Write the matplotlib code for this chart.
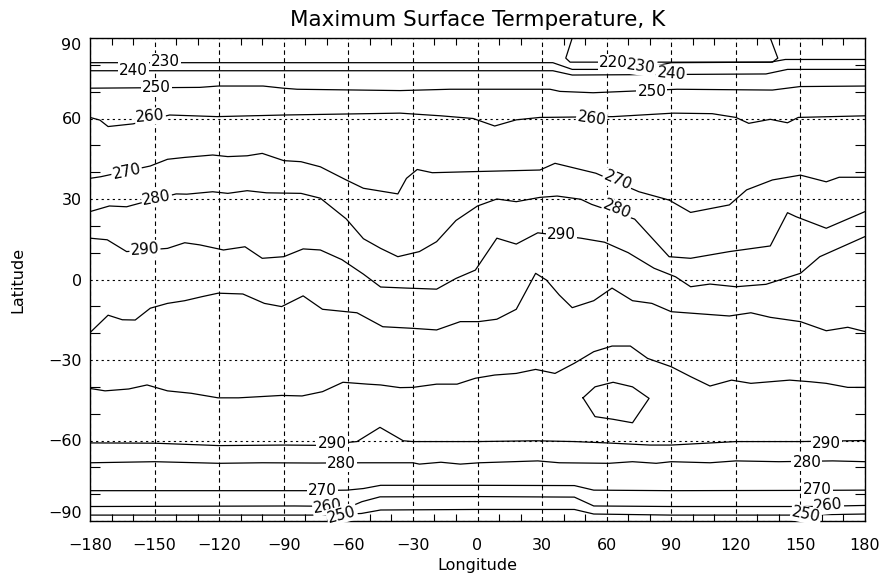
import matplotlib
matplotlib.use("Agg")
import matplotlib.pyplot as plt

# ---- data: contour polylines (lon, lat) ----
c220 = [(44, 90), (41, 82.5), (43, 81.0), (137, 81.0), (139.5, 82.5), (136, 90)]
c230 = [(-180, 80.8), (35, 80.8), (44, 78.3), (75, 78.3), (90, 80.8), (136, 81.0),
        (143, 82.0), (180, 82.0)]
c240 = [(-180, 77.8), (35, 77.8), (44, 76.2), (134, 76.6), (144, 78.3), (180, 78.3)]
c250 = [(-180, 71.3), (-129, 71.6), (-120.5, 72.1), (-99.6, 72.1), (-90.3, 71.3),
        (-83.8, 70.9), (-36, 70.4), (-12.8, 70.9), (33.7, 70.9), (38.3, 70.1),
        (53.7, 69.6), (92.7, 70.9), (137, 70.6), (149.8, 71.9), (180, 72.1)]
c260 = [(-180, 60.4), (-175.4, 59.4), (-171.6, 57.0), (-160, 58.0), (-143, 61.3),
        (-121, 60.7), (-90, 61.3), (-36, 62.0), (-17, 61.0), (-2, 60.0), (8, 57.2),
        (18, 59.5), (29, 60.4), (63, 60.7), (91, 62.0), (109, 61.8), (120, 60.4),
        (126, 58.2), (136, 59.7), (144, 58.4), (149, 60.4), (180, 61.0)]
c270 = [(-180, 37.7), (-175, 38.3), (-152, 42.3), (-144, 44.8), (-136, 45.5),
        (-123, 46.4), (-116, 45.8), (-107, 46.1), (-100, 47.0), (-90, 44.3),
        (-82, 43.9), (-73, 42.0), (-61, 37.1), (-53, 34.0), (-37, 31.9), (-33, 37.7),
        (-28, 41.0), (-21, 39.8), (-2, 40.2), (29, 40.8), (36, 43.3), (55, 39.6),
        (75, 32.7), (89, 29.6), (99, 25.0), (117, 27.8), (125, 33.4), (137, 37.1),
        (150, 38.9), (162, 36.4), (168, 38.1), (180, 38.1)]
c280 = [(-180, 25.3), (-171, 27.4), (-163, 27.1), (-157, 28.4), (-140, 31.9),
        (-135, 31.8), (-123, 32.7), (-116, 32.1), (-107, 33.1), (-98, 32.3),
        (-82, 32.1), (-73, 30.3), (-61, 22.6), (-53, 15.2), (-45, 11.6), (-37, 8.5),
        (-27, 10.4), (-19, 14.1), (-10, 22.0), (0, 27.4), (9, 30.0), (18, 29.0),
        (29, 30.6), (37, 31.1), (48, 29.9), (53, 28.0), (73, 22.5), (89, 8.5),
        (99, 7.9), (117, 10.4), (136, 12.5), (144, 24.9), (148, 23.4), (162, 19.1),
        (180, 25.3)]
c290_north = [(-180, 15.4), (-172, 14.8), (-163, 10.4), (-144, 11.6), (-136, 13.7),
              (-129, 12.9), (-118, 11.0), (-108, 12.2), (-100, 7.9), (-90, 8.5),
              (-81, 11.4), (-73, 11.0), (-63, 7.4), (-53, 2.0), (-45, -2.8),
              (-33, -3.2), (-19, -3.6), (-10, 0.4), (-1, 3.5), (9, 15.4), (18, 13.2),
              (28, 17.4), (48, 15.4), (59, 13.9), (70, 10.0), (82, 4.2), (92, 1.0),
              (99, -2.7), (108, -1.7), (120, -2.7), (134, -1.8), (150, 2.3),
              (159, 8.5), (180, 16.0)]
c300_north = [(-180, -19.8), (-171.6, -13.3), (-165, -15.0), (-159, -15.1),
              (-152, -10.7), (-144, -8.9), (-136, -7.9), (-128, -6.4), (-120.5, -5.1),
              (-109, -5.4), (-99, -8.9), (-91, -10.1), (-81, -6.1), (-72, -11.1),
              (-56, -12.4), (-44, -17.6), (-30, -18.2), (-19, -18.8), (-8, -15.7),
              (0.5, -15.7), (9, -14.8), (18, -11.1), (27, 2.3), (32, -0.2),
              (38, -5.8), (44, -10.5), (54, -7.9), (62.5, -3.2), (72, -7.9),
              (81, -8.9), (90, -12.0), (117, -13.6), (127, -12.4), (136, -14.1),
              (150, -15.7), (162, -19.1), (172, -17.8), (180, -19.4)]
c300_south = [(-180, -40.6), (-173, -41.5), (-162, -40.8), (-153.5, -39.3),
              (-144, -41.5), (-133, -42.4), (-120.5, -44.1), (-111, -44.1),
              (-102, -43.7), (-91, -43.2), (-81.5, -43.4), (-72, -41.8),
              (-62.5, -38.3), (-51, -39.0), (-45, -39.3), (-36, -40.3), (-30, -40.2),
              (-19, -39.0), (-9.5, -39.0), (-1, -36.8), (8, -35.6), (18, -35.0),
              (27, -33.5), (36, -35.0), (45, -31.2), (54, -26.9), (62.5, -24.8),
              (71, -24.8), (79, -29.4), (90, -32.5), (99, -36.2), (108, -39.7),
              (118, -37.5), (127, -38.7), (136, -38.1), (145, -37.5), (154.5, -38.1),
              (162, -38.7), (172, -40.2), (180, -40.2)]
c_loop = [(49, -44.1), (54.6, -40.0), (63, -38.3), (72, -40.0), (79.7, -44.3),
          (72, -53.4), (63, -52.1), (54.6, -51.1), (49, -44.1)]
c290_south = [(-180, -60.9), (-150, -61.0), (-120, -61.9), (-90, -61.7), (-75, -61.8),
              (-56, -60.4), (-45.3, -55.1), (-34.5, -60.1), (-30, -60.4), (0, -60.4),
              (27, -60.1), (45, -60.4), (60, -60.9), (80, -61.7), (90, -61.7),
              (120, -60.4), (150, -60.4), (180, -60.0)]
c280_south = [(-180, -68.3), (-150, -67.9), (-120, -68.5), (-100, -68.3),
              (-75, -68.4), (-54, -68.3), (-30, -68.3), (-27, -68.8), (-17, -68.1),
              (-8, -68.8), (1, -68.3), (28, -67.6), (38, -68.3), (61, -68.5),
              (72, -67.9), (83, -68.5), (90, -67.9), (108, -68.3), (120, -67.6),
              (140, -67.9), (165, -67.6), (180, -67.9)]
c270_south = [(-180, -78.7), (-80, -78.7), (-60.6, -78.5), (-53, -77.9), (-45, -76.7),
              (0, -76.7), (45, -76.8), (54, -78.5), (90, -78.7), (148, -78.6),
              (180, -78.5)]
c260_south = [(-180, -84.6), (-85, -84.4), (-59, -84.6), (-53.7, -82.8),
              (-45.3, -81.0), (0, -80.9), (45, -81.1), (54, -84.4), (90, -84.6),
              (155, -84.6), (180, -84.2)]
c250_south = [(-180, -87.8), (-72, -87.8), (-54, -87.2), (-45, -85.9), (0, -85.7),
              (45, -85.7), (54, -87.4), (90, -87.8), (148, -87.8), (180, -87.4)]

contours = [c220, c230, c240, c250, c260, c270, c280, c290_north, c300_north,
            c300_south, c_loop, c290_south, c280_south, c270_south, c260_south,
            c250_south]

# contour labels: text, lon, lat, rotation
label_text = ["230", "240", "250", "260", "270", "280", "290",
              "220", "230", "240", "250", "260", "270", "280", "290",
              "290", "280", "270", "260", "250",
              "290", "280", "270", "260", "250"]
label_lon = [-145, -160, -149, -152, -163, -149, -154.5,
             63, 76, 90, 81, 53, 65, 65, 39,
             -67.6, -63.4, -72.2, -69.5, -63,
             162, 153, 157.7, 163, 152.6]
label_lat = [81.3, 77.9, 71.4, 60.8, 40.3, 30.2, 11.3,
             81.0, 79.2, 76.6, 70.2, 60.0, 36.8, 26.0, 16.6,
             -61.0, -68.4, -78.5, -84.6, -87.6,
             -61.0, -68.2, -78.3, -84.3, -87.6]
label_rot = [0, 0, 0, 5, 12, 10, 4,
             0, -8, -5, 0, -8, -23, -22, 0,
             0, 0, 0, 8, 15,
             0, 0, 0, 5, -12]

lon_ticks = list(range(-180, 181, 30))
lat_ticks = list(range(-90, 91, 30))

# ---- figure ----
fig = plt.figure(figsize=(8.83, 5.77), dpi=100)
ax = fig.add_axes([90 / 883, 56 / 577, 775 / 883, 483 / 577])

for c in contours:
    xs = [p[0] for p in c]
    ys = [p[1] for p in c]
    ax.plot(xs, ys, color="black", lw=0.9, zorder=3)

for s, x, y, r in zip(label_text, label_lon, label_lat, label_rot):
    ax.text(x, y, s, rotation=r, rotation_mode="anchor", ha="center", va="center",
            fontsize=11, zorder=4,
            bbox=dict(facecolor="white", edgecolor="none", pad=0.8))

ax.set_xlim(-180, 180)
ax.set_ylim(-90, 90)
ax.set_xticks(lon_ticks)
ax.set_yticks(lat_ticks)
ax.set_xticks(range(-180, 181, 10), minor=True)
ax.set_yticks(range(-90, 91, 10), minor=True)

ax.xaxis.grid(True, which="major", color="black", lw=0.8, linestyle=(0, (4, 3)), zorder=1)
ax.yaxis.grid(True, which="major", color="black", lw=0.8, linestyle=(0, (2, 3)), zorder=1)
ax.set_axisbelow(True)

ax.tick_params(which="major", length=0, labelsize=11.5)
ax.tick_params(axis="x", which="major", pad=12)
ax.tick_params(axis="y", which="major", pad=6)
ax.tick_params(axis="x", which="minor", direction="in", length=5, width=0.8,
               top=True, bottom=True)
ax.tick_params(axis="y", which="minor", direction="in", length=7, width=0.8,
               left=True, right=True)

for sp in ax.spines.values():
    sp.set_linewidth(1.0)

yl = ax.get_yticklabels()
yl[0].set_va("bottom")
yl[-1].set_va("top")

ax.set_title("Maximum Surface Termperature, K", fontsize=15.5, pad=9)
ax.set_xlabel("Longitude", fontsize=11.5, labelpad=4)
ax.set_ylabel("Latitude", fontsize=11.5, labelpad=16)

fig.savefig("out.png", dpi=100)
